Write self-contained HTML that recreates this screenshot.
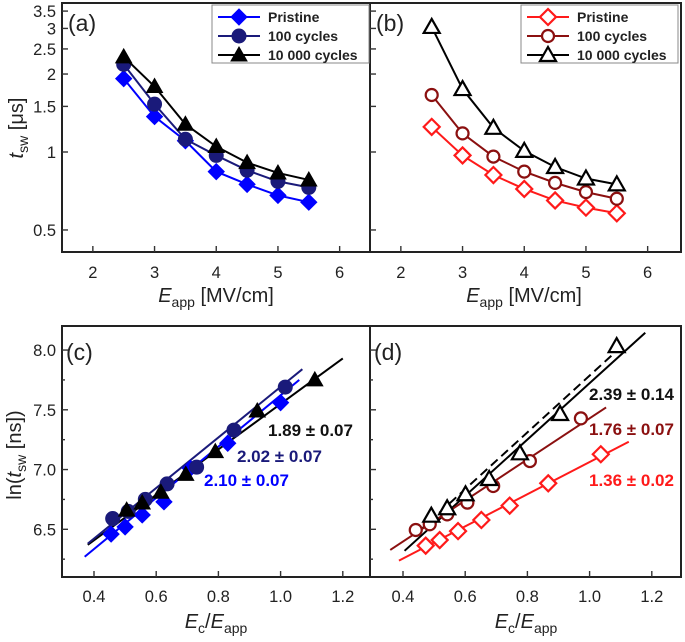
<!DOCTYPE html>
<html><head><meta charset="utf-8"><style>
body{margin:0;background:#fff}
svg{display:block;font-family:"Liberation Sans",sans-serif}
</style></head><body>
<svg id="c" width="685" height="642" viewBox="0 0 685 642"></svg>
<script>
const E=[2.5,3,3.5,4,4.5,5,5.5];
const aPristine=[1.92,1.37,1.105,0.84,0.75,0.68,0.64];
const a100=[2.18,1.53,1.12,0.97,0.85,0.77,0.73];
const a10k=[2.33,1.79,1.28,1.05,0.91,0.83,0.78];
const bPristine=[1.25,0.97,0.815,0.72,0.65,0.61,0.58];
const b100=[1.66,1.18,0.96,0.84,0.76,0.70,0.66];
const b10k=[3.04,1.75,1.24,1.01,0.875,0.79,0.75];
const cPx=[0.455,0.5,0.555,0.625,0.71,0.83,1.0];
const cPy=[6.46,6.52,6.62,6.73,7.01,7.22,7.56];
const c1x=[0.46,0.51,0.565,0.635,0.73,0.85,1.015];
const c1y=[6.59,6.65,6.75,6.88,7.02,7.33,7.69];
const c2x=[0.505,0.555,0.615,0.695,0.79,0.925,1.11];
const c2y=[6.66,6.72,6.81,6.96,7.15,7.49,7.75];
const dPx=[0.473,0.518,0.577,0.652,0.743,0.867,1.036];
const dPy=[6.363,6.41,6.485,6.578,6.698,6.885,7.128];
const d1x=[0.441,0.486,0.542,0.607,0.69,0.808,0.972];
const d1y=[6.494,6.542,6.625,6.723,6.862,7.071,7.428];
const d2x=[0.491,0.542,0.601,0.677,0.776,0.905,1.087];
const d2y=[6.614,6.676,6.793,6.921,7.136,7.465,8.033];
const yTicksTop=[0.5,1,1.5,2,2.5,3,3.5];
const xTicksTop=[2,3,4,5,6];
const yTicksBot=[6.5,7.0,7.5,8.0];
const xTicksBot=[0.4,0.6,0.8,1.0,1.2];

const svg=document.getElementById('c');const NS='http://www.w3.org/2000/svg';
function el(t,a,p){const e=document.createElementNS(NS,t);for(const k in a)e.setAttribute(k,a[k]);(p||svg).appendChild(e);return e;}
function txt(s,x,y,a,p){const e=el('text',Object.assign({x:x,y:y},a),p);e.textContent=s;return e;}
const TOP=3,BOT=252,BT=326,BB=577;
const xa=v=>62+(v-1.5)*61.7, xb=v=>370+(v-1.5)*61.7;
const yl=v=>152-Math.log10(v)*259;
const xc=v=>94+(v-0.4)*311, xd=v=>403+(v-0.4)*311;
const yc=v=>529.3-(v-6.5)*119.5;

function marker(g,shape,x,y,col,fill){
  let m;
  if(shape==='d')m=el('polygon',{points:`${x},${y-8} ${x+8},${y} ${x},${y+8} ${x-8},${y}`},g);
  else if(shape==='o')m=el('circle',{cx:x,cy:y,r:fill?7:6},g);
  else m=el('polygon',{points:`${x},${y-8} ${x+8},${y+6} ${x-8},${y+6}`},g);
  m.setAttribute('fill',fill?col:'#fff');m.setAttribute('stroke',col);m.setAttribute('stroke-width',fill?1:2.2);
  return m;
}
function series(name,xs,ys,fx,fy,shape,col,fill,line){
  const g=el('g',{});
  
  
  if(line){el('polyline',{points:xs.map((v,i)=>fx(v)+','+fy(ys[i])).join(' '),fill:'none',stroke:col,'stroke-width':2},g);}
  xs.forEach((v,i)=>{const m=marker(g,shape,fx(v),fy(ys[i]),col,fill);
    
    });
}
function fitLine(name,x1,y1,x2,y2,fx,col,dash){
  const l=el('line',{x1:fx(x1),y1:yc(y1),x2:fx(x2),y2:yc(y2),stroke:col,'stroke-width':2});
  if(dash)l.setAttribute('stroke-dasharray','9 5');
  
  
}
el('rect',{x:62,y:TOP,width:619,height:BOT-TOP,fill:'none',stroke:'#222','stroke-width':2,});
el('line',{x1:370,y1:TOP,x2:370,y2:BOT,stroke:'#222','stroke-width':2});
el('rect',{x:62,y:BT,width:619,height:BB-BT,fill:'none',stroke:'#222','stroke-width':2,});
el('line',{x1:370,y1:BT,x2:370,y2:BB,stroke:'#222','stroke-width':2});
const fs={'font-size':16.5,'fill':'#222','text-anchor':'middle'};
xTicksTop.forEach(v=>{[xa,xb].forEach(f=>{el('line',{x1:f(v),y1:BOT,x2:f(v),y2:BOT-6,stroke:'#333','stroke-width':1.4});
  const t=txt(String(v),f(v),278,fs);});});
yTicksTop.forEach(v=>{[62,370].forEach(x0=>el('line',{x1:x0,y1:yl(v),x2:x0+6,y2:yl(v),stroke:'#333','stroke-width':1.4}));
  const t=txt(String(v),56,yl(v)+6,Object.assign({},fs,{'text-anchor':'end'}));});
xTicksBot.forEach(v=>{[xc,xd].forEach(f=>{el('line',{x1:f(v),y1:BB,x2:f(v),y2:BB-6,stroke:'#333','stroke-width':1.4});
  const t=txt(v.toFixed(1),f(v),602,fs);});});
[6.25,6.5,6.75,7,7.25,7.5,7.75,8].forEach(v=>[62,370].forEach(x0=>el('line',{x1:x0,y1:yc(v),x2:x0+(v*4%2===0?6:3),y2:yc(v),stroke:'#333','stroke-width':1.4})));
yTicksBot.forEach(v=>{const t=txt(v.toFixed(1),56,yc(v)+6,Object.assign({},fs,{'text-anchor':'end'}));});
const ft=20,fsub=14;
function xt(x,y,html,name){const t=txt('',x,y,{'font-size':ft,'text-anchor':'middle',fill:'#222'});t.innerHTML=html;}
const eapp='<tspan font-style="italic">E</tspan><tspan font-size="'+fsub+'" dy="5">app</tspan><tspan dy="-5"> [MV/cm]</tspan>';
const ec='<tspan font-style="italic">E</tspan><tspan font-size="'+fsub+'" dy="5">c</tspan><tspan dy="-5">/</tspan><tspan font-style="italic">E</tspan><tspan font-size="'+fsub+'" dy="5">app</tspan>';
xt(216,302,eapp,'x-axis-title-a');xt(524,302,eapp,'x-axis-title-b');
xt(216,628,ec,'x-axis-title-c');xt(526,628,ec,'x-axis-title-d');
let t=txt('',0,0,{'font-size':ft,'text-anchor':'middle',fill:'#222',transform:'translate(23,128) rotate(-90)'});t.innerHTML='<tspan font-style="italic">t</tspan><tspan font-size="'+fsub+'" dy="5">sw</tspan><tspan dy="-5"> [μs]</tspan>';
t=txt('',0,0,{'font-size':ft,'text-anchor':'middle',fill:'#222',transform:'translate(21,455) rotate(-90)'});t.innerHTML='ln(<tspan font-style="italic">t</tspan><tspan font-size="'+fsub+'" dy="5">sw</tspan><tspan dy="-5"> [ns])</tspan>';
[['(a)',68,31],['(b)',376,31],['(c)',66,360],['(d)',374,360]].forEach(p=>{const e=txt(p[0],p[1],p[2],{'font-size':23,fill:'#222'});});
const BL='#0000ff',NV='#1a1a7a',RD='#ff1a1a',DR='#8b1010';
series('a-pristine',E,aPristine,xa,yl,'d',BL,true,true);
series('a-100-cycles',E,a100,xa,yl,'o',NV,true,true);
series('a-10000-cycles',E,a10k,xa,yl,'t','#000',true,true);
series('b-pristine',E,bPristine,xb,yl,'d',RD,false,true);
series('b-100-cycles',E,b100,xb,yl,'o',DR,false,true);
series('b-10000-cycles',E,b10k,xb,yl,'t','#000',false,true);
function legend(x0,items,fill,name){
  const g=el('g',{});
  el('rect',{x:x0,y:5,width:157,height:58,fill:'#fff',stroke:'#888','stroke-width':1},g);
  items.forEach((it,i)=>{const y=17+i*19;
    el('line',{x1:x0+6,y1:y,x2:x0+48,y2:y,stroke:it[2],'stroke-width':2},g);
    marker(g,it[1],x0+27,y,it[2],fill);
    const e=txt(it[0],x0+56,y+5,{'font-size':14,'font-weight':'bold',fill:'#222'},g);
    });
}
legend(212,[['Pristine','d',BL],['100 cycles','o',NV],['10 000 cycles','t','#000']],true,'legend-a');
legend(521,[['Pristine','d',RD],['100 cycles','o',DR],['10 000 cycles','t','#000']],false,'legend-b');
fitLine('c-fit-10000',0.38,6.37,1.2,7.93,xc,'#000');
fitLine('c-fit-100',0.38,6.38,1.07,7.84,xc,NV);
fitLine('c-fit-pristine',0.37,6.27,1.06,7.75,xc,BL);
series('c-pristine',cPx,cPy,xc,yc,'d',BL,true,false);
series('c-100-cycles',c1x,c1y,xc,yc,'o',NV,true,false);
series('c-10000-cycles',c2x,c2y,xc,yc,'t','#000',true,false);
[['1.89 ± 0.07',268,436,'#111'],['2.02 ± 0.07',237,462,NV],['2.10 ± 0.07',204,486,BL],
 ['2.39 ± 0.14',589,400,'#111'],['1.76 ± 0.07',589,435,DR],['1.36 ± 0.02',589,486,RD]].forEach(s=>{
  const e=txt(s[0],s[1],s[2],{'font-size':17,'font-weight':'bold',fill:s[3]});});
fitLine('d-fit-10000',0.405,6.32,1.179,8.145,xd,'#000');
fitLine('d-fit-10000-dashed',0.45,6.48,1.09,8.0,xd,'#000',true);
fitLine('d-fit-100',0.359,6.327,1.053,7.52,xd,DR);
fitLine('d-fit-pristine',0.387,6.238,1.126,7.233,xd,RD);
series('d-pristine',dPx,dPy,xd,yc,'d',RD,false,false);
series('d-100-cycles',d1x,d1y,xd,yc,'o',DR,false,false);
series('d-10000-cycles',d2x,d2y,xd,yc,'t','#000',false,false);
</script>
</body></html>
